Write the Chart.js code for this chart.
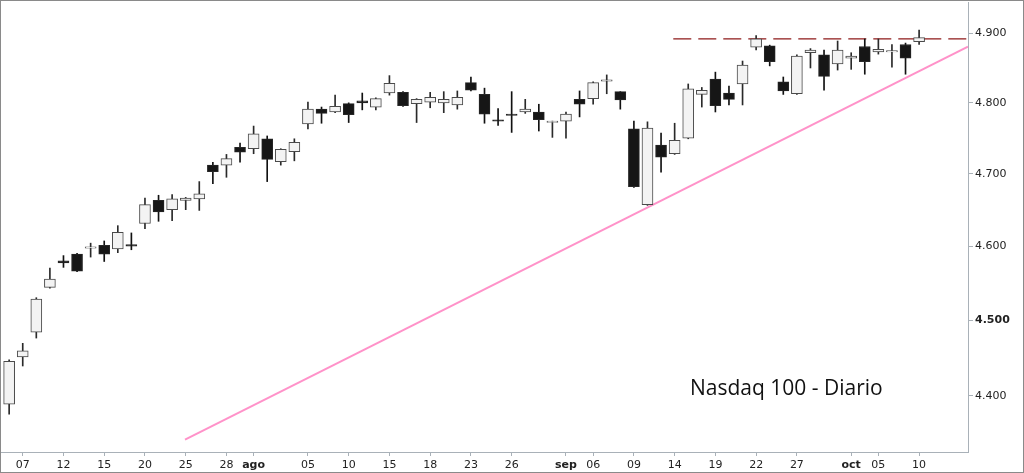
<!DOCTYPE html>
<html>
<head>
<meta charset="utf-8">
<script src="https://cdn.jsdelivr.net/npm/chart.js@4.4.0/dist/chart.umd.min.js"></script>
<style>
  html, body { margin: 0; padding: 0; background: #fff; }
  #wrap { position: relative; width: 1024px; height: 473px; }
  #chart { display: block; outline: 1px solid #8a8a8a; outline-offset: -1px; }
  #label { position: absolute; left: 690px; top: 372px; font: 21px "Open Sans", sans-serif; line-height: 30px; color: #111; white-space: nowrap; }
</style>
</head>
<body>
<div id="wrap">
  <canvas id="chart" width="1024" height="473"></canvas>
  <div id="label">Nasdaq 100 - Diario</div>
</div>
<script>
// Nasdaq 100 daily, 6 Jul - 10 Oct (one entry per trading session)
const opens  = [4389,4451,4484,4544,4580,4589,4597,4601,4596,4602,4631,4663,4650,4663,4665,4712,4712,4737,
                4735,4749,4717,4731,4770,4791,4787,4799,4803,4794,4814,4815,4799,4801,4800,4797,4829,4812,4776,4784,4787,4787,4772,
                4774,4805,4806,4831,4816,4763,4657,4740,4728,4750,4812,4834,4814,4827,4880,4882,4830,4813,4872,4869,
                4856,4864,4881,4873,4873,4884,4888];
const highs  = [4447,4469,4530,4570,4587,4590,4604,4607,4628,4618,4666,4670,4671,4667,4689,4716,4727,4743,
                4767,4753,4735,4749,4801,4794,4811,4800,4814,4807,4839,4816,4806,4815,4816,4817,4837,4821,4792,4816,4805,4798,4774,
                4787,4817,4830,4840,4816,4774,4773,4757,4771,4827,4822,4844,4824,4860,4897,4883,4837,4869,4878,4876,
                4889,4872,4892,4892,4884,4886,4905];
const lows   = [4376,4439,4476,4543,4571,4565,4585,4579,4591,4595,4624,4634,4635,4650,4649,4686,4695,4716,
                4728,4689,4712,4718,4763,4771,4786,4772,4790,4790,4811,4795,4772,4793,4786,4791,4817,4771,4768,4758,4785,4760,4751,
                4750,4780,4798,4813,4791,4681,4656,4702,4727,4749,4794,4787,4797,4797,4876,4853,4812,4812,4850,4818,
                4847,4848,4841,4870,4851,4841,4884];
const closes = [4445,4459,4528,4555,4577,4566,4599,4589,4619,4600,4657,4647,4665,4666,4672,4703,4721,4730,
                4756,4720,4734,4744,4791,4785,4795,4783,4800,4806,4828,4796,4805,4808,4805,4808,4818,4784,4774,4782,4791,4776,4774,
                4784,4798,4829,4833,4804,4682,4764,4723,4747,4820,4818,4796,4805,4854,4892,4859,4817,4867,4876,4838,
                4876,4867,4859,4877,4875,4864,4894];

// x axis labels (session index -> text)
const tickIdx  = [1, 4, 7, 10, 13, 16, 18, 22, 25, 28, 31, 34, 37, 41, 43, 46, 49, 52, 55, 58, 62, 64, 67];
const tickText = ['07','12','15','20','25','28','ago','05','10','15','18','23','26','sep','06','09','14','19','22','27','oct','05','10'];
const monthIdx = [18, 41, 62];

const yTicks = [4400, 4500, 4600, 4700, 4800, 4900];

// trend line (pink) and resistance (dashed)
const trendX = [12.95, 70.6];
const trendY = [4343, 4881];
const resX = [48.9, 70.6];
const resY = [4892, 4892];

const up = opens.map((o, i) => closes[i] >= o);
const bodies = opens.map((o, i) => ({x: i, y: [o, closes[i]]}));
const wicks = lows.map((l, i) => ({x: i, y: [l, highs[i]]}));

const axisGrey = '#a9b1b8';

new Chart(document.getElementById('chart'), {
    type: 'bar',
    data: {
        datasets: [
            {
                type: 'line',
                data: trendX.map((x, i) => ({x: x, y: trendY[i]})),
                borderColor: '#ff92c9',
                borderWidth: 2,
                pointRadius: 0,
                order: 3
            },
            {
                type: 'line',
                data: resX.map((x, i) => ({x: x, y: resY[i]})),
                borderColor: '#8e1a1a',
                borderWidth: 1.2,
                borderDash: [18, 7],
                pointRadius: 0,
                order: 2
            },
            {
                data: wicks,
                barThickness: 1,
                grouped: false,
                backgroundColor: up.map(u => u ? '#2a2a2a' : '#111'),
                order: 1
            },
            {
                data: bodies,
                barThickness: 11,
                grouped: false,
                borderSkipped: false,
                borderWidth: 1,
                backgroundColor: up.map(u => u ? '#f3f3f3' : '#161616'),
                borderColor: up.map(u => u ? '#4a4a4a' : '#262626'),
                order: 0
            }
        ]
    },
    options: {
        responsive: false,
        animation: false,
        layout: {padding: {left: 1, top: 2, right: 0, bottom: 0}},
        plugins: {legend: {display: false}, tooltip: {enabled: false}},
        scales: {
            x: {
                type: 'linear',
                min: -0.6,
                max: 70.6,
                offset: false,
                grid: {offset: false, drawOnChartArea: false, tickLength: 4, color: axisGrey},
                border: {color: axisGrey},
                afterBuildTicks: s => { s.ticks = tickIdx.map(v => ({value: v})); },
                afterFit: s => { s.height = 21; s.paddingLeft = 0; s.paddingRight = 0; },
                ticks: {
                    autoSkip: false,
                    maxRotation: 0,
                    padding: 3,
                    color: '#222',
                    font: c => ({family: 'DejaVu Sans', size: 11,
                        weight: c.tick && monthIdx.includes(c.tick.value) ? 'bold' : 'normal'}),
                    callback: v => tickText[tickIdx.indexOf(v)]
                }
            },
            y: {
                type: 'logarithmic',
                position: 'right',
                min: 4327,
                max: 4946,
                beginAtZero: false,
                grid: {drawOnChartArea: false, tickLength: 5, color: axisGrey},
                border: {color: axisGrey},
                afterBuildTicks: s => { s.ticks = yTicks.map(v => ({value: v})); },
                afterFit: s => { s.width = 56; s.paddingTop = 0; s.paddingBottom = 0; },
                ticks: {
                    padding: 2,
                    color: '#222',
                    font: c => ({family: 'DejaVu Sans', size: 11,
                        weight: c.tick && c.tick.value === 4500 ? 'bold' : 'normal'}),
                    callback: v => (v / 1000).toFixed(3)
                }
            }
        }
    }
});
</script>
</body>
</html>
